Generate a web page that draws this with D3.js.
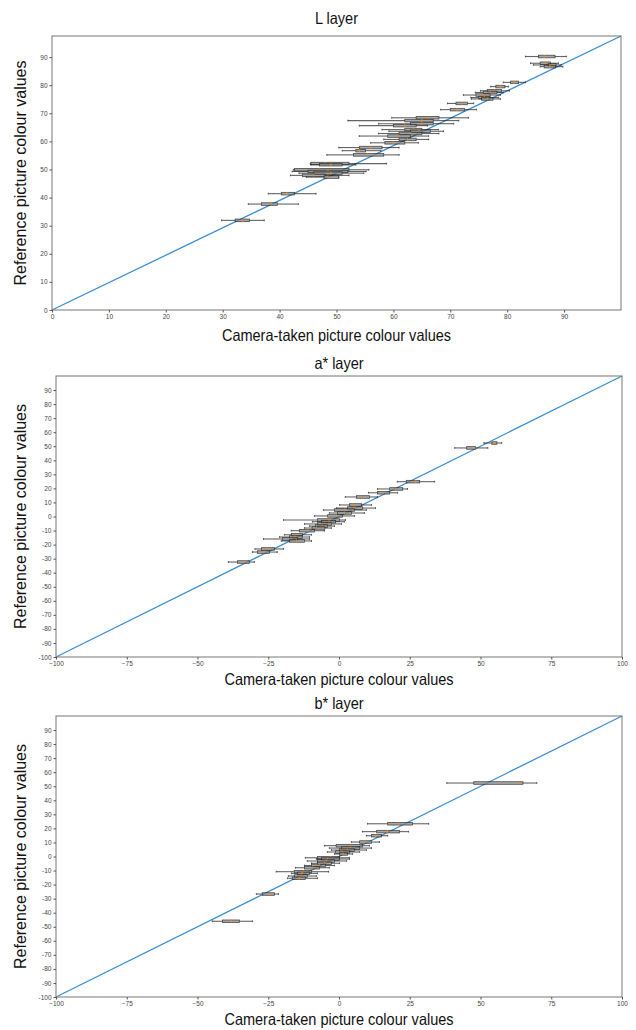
<!DOCTYPE html>
<html><head><meta charset="utf-8">
<script src="https://cdn.jsdelivr.net/npm/d3@7/dist/d3.min.js"></script>
<style>body{margin:0;background:#fff}svg{display:block}text{font-family:"Liberation Sans",Arial,sans-serif}</style>
</head><body><svg id="c" width="636" height="1030"></svg>
<script>
// ---- L layer: reference value, whisker low, Q1, median, Q3, whisker high ----
const refL = [90.2,87.8,87.2,86.6,81.0,79.5,78.0,77.4,76.5,75.6,75.1,73.5,71.3,68.4,67.4,66.3,65.6,64.2,63.6,62.8,61.9,60.7,59.5,57.8,56.7,55.2,52.1,51.7,49.9,49.3,48.7,47.9,47.3,41.4,37.7,31.9];
const loL  = [83.2,84.1,84.6,85.8,79.3,77.1,75.3,74.4,72.3,73.6,73.7,69.5,68.3,59.7,52.0,57.4,54.0,58.0,59.2,57.4,54.0,58.3,56.0,50.4,51.0,48.3,45.4,45.5,42.4,42.2,43.4,41.9,44.7,38.0,34.5,29.8];
const q1L  = [85.5,85.8,87.2,86.5,80.6,78.0,76.5,75.8,74.5,75.0,75.5,71.0,70.0,64.0,62.0,63.0,60.0,62.0,63.0,61.0,59.0,61.0,58.5,54.0,53.4,53.0,45.5,47.0,42.6,45.0,46.0,44.0,47.8,40.3,36.8,32.2];
const medL = [86.5,86.7,88.0,87.5,81.2,78.8,77.8,77.0,75.8,76.0,76.5,72.0,71.2,66.0,65.0,65.0,62.0,63.5,64.5,63.0,61.0,62.5,60.0,56.0,54.0,55.5,48.0,49.0,47.0,48.5,49.0,46.0,48.5,41.3,38.5,33.5];
const q3L  = [88.4,87.6,88.6,88.5,82.0,79.6,79.0,78.2,77.0,77.0,77.5,73.0,72.5,68.0,67.0,67.0,64.0,65.0,66.5,65.0,63.0,64.0,62.0,58.0,55.1,58.3,52.2,51.0,52.2,52.0,51.0,48.0,50.4,42.6,39.6,34.7];
const hiL  = [90.4,89.0,89.5,89.8,83.2,80.2,80.4,79.3,78.8,78.5,78.8,74.1,74.6,73.2,71.5,70.6,66.0,67.9,68.8,68.0,66.2,66.2,64.4,61.0,57.8,61.0,58.8,53.4,55.7,55.2,54.8,52.2,50.4,46.4,43.3,37.3];

// ---- a* layer ----
const refA = [52.3,48.8,24.8,19.6,16.9,13.9,8.2,6.0,4.6,2.5,0.4,-2.5,-3.7,-5.3,-6.8,-8.2,-10.1,-13.0,-14.6,-16.0,-17.4,-23.1,-25.3,-32.4];
const loA  = [51.2,40.9,20.6,13.6,10.4,2.2,0.2,-0.9,-5.5,-3.4,-8.7,-19.6,-9.4,-12.2,-10.4,-12.2,-16.9,-19.3,-21.0,-26.7,-20.4,-29.7,-30.6,-39.1];
const q1A  = [54.0,45.1,23.8,17.9,13.6,6.2,3.7,3.0,-1.6,-0.5,-4.0,-7.6,-6.2,-7.6,-8.3,-9.5,-14.0,-16.8,-17.5,-20.0,-17.5,-27.4,-28.8,-35.9];
const medA = [55.0,48.0,27.1,20.0,15.5,8.0,5.0,5.5,2.0,2.0,-1.0,-3.4,-3.5,-5.0,-6.0,-8.0,-11.0,-14.5,-15.5,-17.0,-15.0,-25.0,-26.5,-33.5];
const q3A  = [55.8,48.3,28.5,22.5,17.9,10.8,8.0,8.3,5.5,4.4,1.2,0.2,-1.2,-2.7,-4.1,-5.0,-8.7,-12.9,-13.0,-14.7,-12.2,-22.8,-24.6,-31.7];
const hiA  = [57.5,52.6,33.8,24.2,20.7,13.6,11.5,12.9,9.7,9.0,5.5,2.3,1.9,0.9,-1.6,-2.7,-5.1,-9.7,-10.4,-10.4,-9.7,-19.6,-21.8,-29.9];

// ---- b* layer ----
const refB = [52.3,23.3,17.7,14.8,10.3,7.7,6.0,4.6,3.2,1.8,-0.9,-1.8,-3.2,-4.8,-6.4,-8.0,-10.8,-12.0,-13.9,-15.5,-26.7,-46.1];
const loB  = [38.1,10.1,8.3,9.7,4.4,-5.1,-3.4,-2.7,-4.1,-1.6,-11.9,-8.0,-11.2,-9.7,-12.2,-15.4,-22.2,-16.8,-17.9,-18.2,-29.2,-44.8];
const q1B  = [47.6,17.2,13.3,11.5,7.3,-1.0,0.9,0.2,-1.2,0.2,-7.6,-6.2,-7.6,-7.6,-9.7,-12.2,-15.8,-14.7,-15.8,-16.5,-27.1,-41.2];
const medB = [63.2,21.1,17.0,13.0,9.0,4.0,4.0,3.0,1.0,1.5,-3.0,-4.0,-4.5,-5.0,-7.0,-9.5,-12.5,-13.0,-13.5,-14.0,-24.4,-38.1];
const q3B  = [65.0,26.0,21.4,15.0,11.5,8.3,7.3,5.5,3.7,3.0,0.2,0.2,-1.6,-2.7,-4.8,-6.9,-9.7,-10.4,-11.2,-11.9,-22.8,-35.2];
const hiB  = [69.9,31.7,24.6,17.2,14.3,10.8,11.5,9.7,7.3,4.8,3.7,3.7,2.7,0.2,-1.6,-3.4,-3.7,-7.6,-8.0,-7.6,-21.4,-30.6];

// ---- axis settings ----
const xTicksL = d3.range(0, 100, 10), yTicksL = d3.range(0, 100, 10);
const xTicksAB = [-100,-75,-50,-25,0,25,50,75,100], yTicksAB = d3.range(-100, 100, 10);
const titles = ["L layer", "a* layer", "b* layer"];
const xLabel = "Camera-taken picture colour values";
const yLabel = "Reference picture colour values";

const panels = [
  {title:titles[0], ref:refL, lo:loL, q1:q1L, med:medL, q3:q3L, hi:hiL, xd:[0,100], yd:[0,97.5], xt:xTicksL, yt:yTicksL,
   box:{l:52,r:621,t:36,b:310}, titleY:24, xlabY:341},
  {title:titles[1], ref:refA, lo:loA, q1:q1A, med:medA, q3:q3A, hi:hiA, xd:[-100,100], yd:[-100,100], xt:xTicksAB, yt:yTicksAB,
   box:{l:56,r:622,t:376,b:657}, titleY:369, xlabY:685},
  {title:titles[2], ref:refB, lo:loB, q1:q1B, med:medB, q3:q3B, hi:hiB, xd:[-100,100], yd:[-100,100], xt:xTicksAB, yt:yTicksAB,
   box:{l:56,r:622,t:716,b:997}, titleY:709, xlabY:1025}
];

function squeeze(sel, f) {
  sel.each(function () {
    const w = this.getComputedTextLength();
    d3.select(this).attr("textLength", w * f).attr("lengthAdjust", "spacingAndGlyphs");
  });
}

const svg = d3.select("#c");
panels.forEach(p => {
  const b = p.box;
  const x = d3.scaleLinear().domain(p.xd).range([b.l, b.r]);
  const y = d3.scaleLinear().domain(p.yd).range([b.b, b.t]);
  const g = svg.append("g");

  // diagonal reference line
  g.append("line")
    .attr("x1", x(p.xd[0])).attr("y1", y(p.yd[0]))
    .attr("x2", x(p.xd[1])).attr("y2", y(p.yd[1]))
    .attr("stroke", "#3a8fd0").attr("stroke-width", 1.3);

  const bh = 1.3; // half box height (px)
  p.ref.forEach((r, i) => {
    const yy = y(r);
    const grp = g.append("g");
    // whiskers
    grp.append("line").attr("x1", x(p.lo[i])).attr("x2", x(p.q1[i])).attr("y1", yy).attr("y2", yy)
      .attr("stroke", "#222").attr("stroke-opacity", 0.7).attr("stroke-width", 1.1);
    grp.append("line").attr("x1", x(p.q3[i])).attr("x2", x(p.hi[i])).attr("y1", yy).attr("y2", yy)
      .attr("stroke", "#222").attr("stroke-opacity", 0.7).attr("stroke-width", 1.1);
    // caps
    [p.lo[i], p.hi[i]].forEach(v => grp.append("line").attr("x1", x(v)).attr("x2", x(v))
      .attr("y1", yy - 0.9).attr("y2", yy + 0.9).attr("stroke", "#222").attr("stroke-opacity", 0.7));
    // box
    grp.append("rect").attr("x", x(p.q1[i])).attr("y", yy - bh)
      .attr("width", Math.max(0.5, x(p.q3[i]) - x(p.q1[i]))).attr("height", bh * 2)
      .attr("fill", "#8a8a8a").attr("fill-opacity", 0.75).attr("stroke", "#111").attr("stroke-opacity", 0.7).attr("stroke-width", 0.8);
    // median
    grp.append("line").attr("x1", x(p.med[i])).attr("x2", x(p.med[i])).attr("y1", yy - bh).attr("y2", yy + bh)
      .attr("stroke", "#f08a1c").attr("stroke-width", 1.2);
  });

  // frame
  g.append("rect").attr("x", b.l).attr("y", b.t).attr("width", b.r - b.l).attr("height", b.b - b.t)
    .attr("fill", "none").attr("stroke", "#777").attr("stroke-width", 1);

  // axes
  const xa = d3.axisBottom(x).tickValues(p.xt).tickSize(2.5).tickPadding(2).tickFormat(d => d < 0 ? "\u2212" + Math.abs(d) : d);
  const ya = d3.axisLeft(y).tickValues(p.yt).tickSize(2.5).tickPadding(2).tickFormat(d => d < 0 ? "-" + Math.abs(d) : d);
  const gx = g.append("g").attr("transform", `translate(0,${b.b})`).call(xa);
  const gy = g.append("g").attr("transform", `translate(${b.l},0)`).call(ya);
  [gx, gy].forEach(a => {
    a.select(".domain").remove();
    a.selectAll("line").attr("stroke", "#555");
    a.selectAll("text").attr("font-size", 6.5).attr("fill", "#444").attr("font-family", "DejaVu Sans");
  });

  // titles and labels
  const t = g.append("text").attr("x", (b.l + b.r) / 2).attr("y", p.titleY).attr("text-anchor", "middle")
    .attr("font-size", 16.5).attr("fill", "#111").text(p.title);
  squeeze(t, 0.88);
  const xl = g.append("text").attr("x", (b.l + b.r) / 2).attr("y", p.xlabY).attr("text-anchor", "middle")
    .attr("font-size", 16.5).attr("fill", "#111").text(xLabel);
  squeeze(xl, 0.88);
  g.append("text").attr("transform", `translate(26,${(b.t + b.b) / 2}) rotate(-90)`).attr("text-anchor", "middle")
    .attr("font-size", 16).attr("fill", "#111").text(yLabel);
});
</script></body></html>
